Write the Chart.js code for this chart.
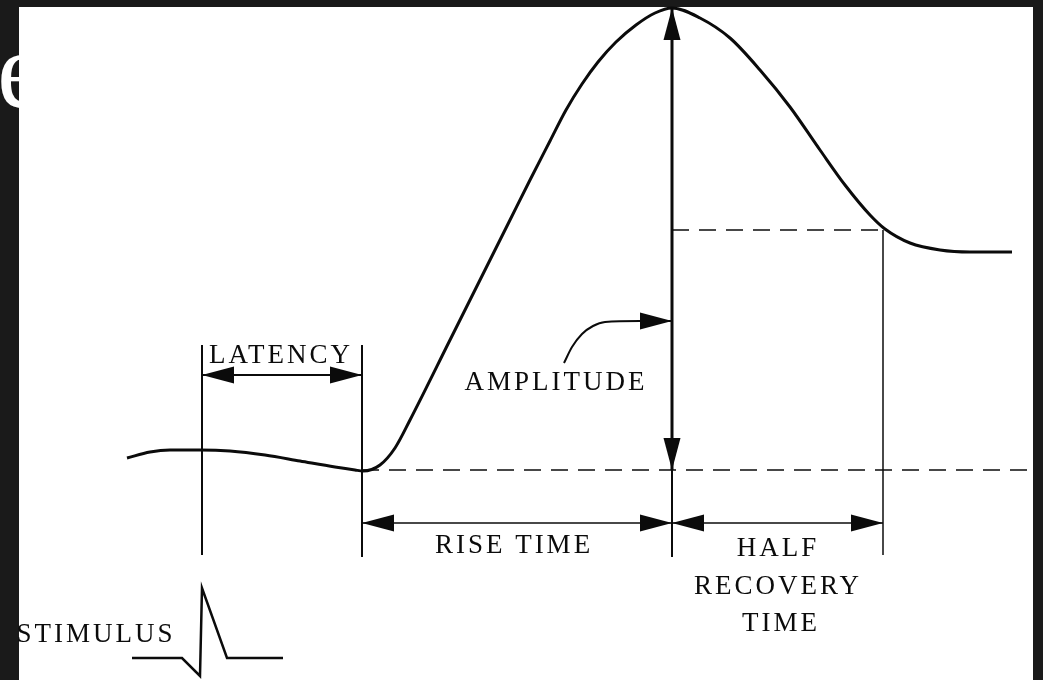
<!DOCTYPE html>
<html>
<head>
<meta charset="utf-8">
<script src="https://cdn.jsdelivr.net/npm/chart.js@4.4.1/dist/chart.umd.min.js"></script>
<style>
  html,body{margin:0;padding:0;background:#1a1a1a;overflow:hidden;}
  body{width:1043px;height:680px;position:relative;}
  .title{position:absolute;left:-3px;top:15px;font:110px "Liberation Serif",serif;line-height:1;color:#fff;}
  .panel{position:absolute;left:19px;top:7px;width:1014px;height:673px;background:#fff;}
  #wave{position:absolute;left:0;top:0;}
</style>
</head>
<body>
<div class="title">e</div>
<div class="panel"></div>
<canvas id="wave" width="1043" height="680"></canvas>
<script>
// response waveform (time units, voltage units; baseline ~210, peak ~672)
const curveTime = [127,150,170,200,230,265,300,335,355,363,380,395,410,450,480,510,530,550,566,582,598,616,636,655,672,700,730,760,790,820,845,870,885,910,940,970,1012];
const curveVolt = [222,228,230,230,229,225,219,213,210,209,215,232,260,340,400,460,500,539,570,596,618,638,655,667,672,662,642,610,573,530,495,465,451,437,430,428,428];

// stimulus pulse
const stimTime = [132,182,200,202,227,283];
const stimVolt = [22,22,4,92,22,22];

// dashed reference levels
const baseLevel = 210, baseFrom = 362, baseTo = 1030;
const halfLevel = 450, halfFrom = 672, halfTo = 883;

// vertical marker lines
const markTime = [202,362,672,883];
const markLow  = [125,123,123,125];
const markHigh = [335,335,210,450];

// dimension arrows
const latencyLevel = 305, latencyFrom = 202, latencyTo = 362;
const riseLevel = 157, riseFrom = 362, riseTo = 672;
const recovLevel = 157, recovFrom = 672, recovTo = 883;
const ampTime = 672, ampLow = 210, ampHigh = 672;

// amplitude pointer
const ptrTime = [564,572,582,593,605,640,672];
const ptrVolt = [317,333,346,354,358,359,359];

// labels
const labelText = ['LATENCY','AMPLITUDE','RISE TIME','HALF','RECOVERY','TIME','STIMULUS'];
const labelTime = [281,556,514,778,778,781,96];
const labelVolt = [317,290,127,124,86,49,38];

const pts = (xs, ys) => xs.map((x,i)=>({x, y: ys[i]}));
const ink = '#0b0b0b';

const datasets = [
  {data: pts(curveTime, curveVolt), borderColor: ink, borderWidth: 3, cubicInterpolationMode: 'monotone'},
  {data: pts(stimTime, stimVolt), borderColor: ink, borderWidth: 2.5, tension: 0},
  {data: [{x:baseFrom,y:baseLevel},{x:baseTo,y:baseLevel}], borderColor: ink, borderWidth: 1.5, borderDash:[17,10]},
  {data: [{x:halfFrom,y:halfLevel},{x:halfTo,y:halfLevel}], borderColor: ink, borderWidth: 1.5, borderDash:[17,10]},
  {data: [{x:latencyFrom,y:latencyLevel},{x:latencyTo,y:latencyLevel}], borderColor: ink, borderWidth: 2, arrows:'both'},
  {data: [{x:riseFrom,y:riseLevel},{x:riseTo,y:riseLevel}], borderColor: ink, borderWidth: 1.5, arrows:'both'},
  {data: [{x:recovFrom,y:recovLevel},{x:recovTo,y:recovLevel}], borderColor: ink, borderWidth: 1.5, arrows:'both'},
  {data: [{x:ampTime,y:ampLow},{x:ampTime,y:ampHigh}], borderColor: ink, borderWidth: 3, arrows:'both'},
  {data: pts(ptrTime, ptrVolt), borderColor: ink, borderWidth: 2, cubicInterpolationMode: 'monotone', arrows:'end'}
];
markTime.forEach((t,i)=>{
  datasets.push({data: [{x:t,y:markLow[i]},{x:t,y:markHigh[i]}], borderColor: ink, borderWidth: i===3 ? 1.5 : 2});
});

function head(ctx, tip, from, len, half){
  const dx = tip.x-from.x, dy = tip.y-from.y, d = Math.hypot(dx,dy)||1;
  const ux = dx/d, uy = dy/d;
  const bx = tip.x-ux*len, by = tip.y-uy*len;
  ctx.beginPath();
  ctx.moveTo(tip.x, tip.y);
  ctx.lineTo(bx-uy*half, by+ux*half);
  ctx.lineTo(bx+uy*half, by-ux*half);
  ctx.closePath();
  ctx.fill();
}

const decor = {
  id:'decor',
  afterDatasetsDraw(chart){
    const ctx = chart.ctx, xs = chart.scales.x, ys = chart.scales.y;
    const px = p => ({x: xs.getPixelForValue(p.x), y: ys.getPixelForValue(p.y)});
    ctx.save();
    ctx.fillStyle = ink;
    chart.data.datasets.forEach(ds=>{
      if(!ds.arrows) return;
      const d = ds.data, n = d.length;
      const a = px(d[0]), b = px(d[1]), y = px(d[n-1]), z = px(d[n-2]);
      if(ds.arrows==='both') head(ctx, a, b, 32, 8.5);
      head(ctx, y, z, 32, 8.5);
    });
    ctx.font = '27px "Liberation Serif", "Times New Roman", serif';
    ctx.letterSpacing = '3px';
    ctx.textAlign = 'center';
    ctx.textBaseline = 'alphabetic';
    labelText.forEach((t,i)=>{
      ctx.fillText(t, xs.getPixelForValue(labelTime[i]), ys.getPixelForValue(labelVolt[i]));
    });
    ctx.restore();
  }
};

new Chart(document.getElementById('wave'), {
  type: 'line',
  data: {datasets},
  options: {
    responsive: false,
    animation: false,
    layout: {padding: 0},
    elements: {point: {radius: 0}},
    plugins: {legend: {display:false}, tooltip: {enabled:false}},
    scales: {
      x: {type:'linear', min:0, max:1043, display:false},
      y: {type:'linear', min:0, max:680, display:false}
    }
  },
  plugins: [decor]
});
</script>
</body>
</html>
